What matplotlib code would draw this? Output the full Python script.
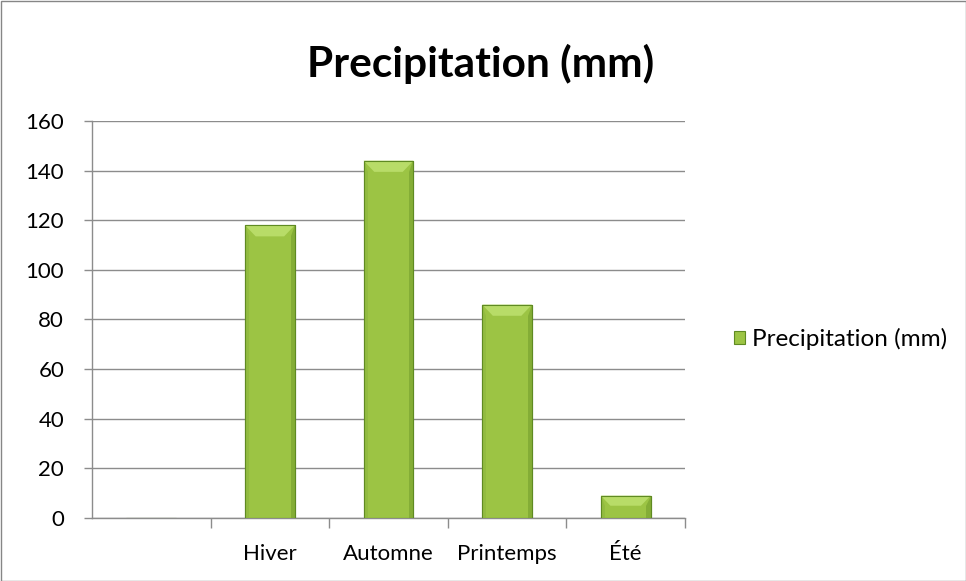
import matplotlib
matplotlib.use("Agg")
import matplotlib.pyplot as plt
from matplotlib.patches import Rectangle, Polygon
import numpy as np

plt.rcParams['font.family'] = ['Lato', 'DejaVu Sans']

categories = ["", "Hiver", "Automne", "Printemps", "Été"]
values = [0, 118, 144, 86, 9]
series_name = "Precipitation (mm)"
title = "Precipitation (mm)"
yticks = [0, 20, 40, 60, 80, 100, 120, 140, 160]

fig = plt.figure(figsize=(9.66, 5.81), dpi=100)
ax = fig.add_axes([92/966, 1-518/581, (685-92)/966, (518-121)/581])

x = np.arange(len(categories))
width = 0.42
face = '#9cc444'
edge = '#5f8a22'
bars = ax.bar(x, values, width=width, color=face, edgecolor=edge, linewidth=0.8, zorder=3,
              label=series_name)

# bevel highlight on top and darker sides
for xi, v in zip(x, values):
    if v <= 0:
        continue
    b = min(4.5, v * 0.45)
    l, r = xi - width/2, xi + width/2
    inset = 0.09 * b / 4.5
    side = 0.035
    ax.add_patch(Polygon([[r, v], [r, 0], [r - side, 0], [r - side, v - b]],
                         closed=True, facecolor='#84ad36', edgecolor='none', zorder=4))
    ax.add_patch(Polygon([[l, v], [l, 0], [l + side, 0], [l + side, v - b]],
                         closed=True, facecolor='#92bb40', edgecolor='none', zorder=4))
    ax.add_patch(Polygon([[l, v], [r, v], [r - inset, v - b], [l + inset, v - b]],
                         closed=True, facecolor='#b8dc68', edgecolor='none', zorder=4))
    ax.add_patch(Rectangle((l, 0), width, v, facecolor='none', edgecolor=edge,
                           linewidth=0.8, zorder=5))

ax.set_xlim(-0.5, len(categories) - 0.5)
ax.set_ylim(0, 160)
ax.set_yticks(yticks)
ax.set_yticklabels([str(t) for t in yticks], fontsize=16)
ax.yaxis.grid(True, color='#8c8c8c', linewidth=1.0, zorder=0)
ax.set_axisbelow(True)

ax.set_xticks(x)
ax.set_xticklabels(categories, fontsize=16)
ax.tick_params(axis='x', length=0, pad=19)
ax.set_xticks(np.arange(len(categories)) + 0.5, minor=True)
ax.tick_params(axis='x', which='minor', length=7, width=1, color='#8c8c8c', direction='out')
ax.tick_params(axis='y', length=6, width=1, color='#8c8c8c', direction='out', pad=14)

for s in ['top', 'right']:
    ax.spines[s].set_visible(False)
for s in ['left', 'bottom']:
    ax.spines[s].set_color('#8c8c8c')
    ax.spines[s].set_linewidth(1.0)

fig.text(481/966, 1-64/581, title, fontsize=30.5, fontweight='bold', ha='center', va='center')

leg = fig.legend(handles=[bars], labels=[series_name], loc='center left',
                 bbox_to_anchor=(712/966, 1-339/581), frameon=False, fontsize=17.5,
                 handlelength=0.45, handleheight=0.45, handletextpad=0.3)

fig.patches.append(Rectangle((0.5/966, 0.5/581), 1-1/966, 1-1/581, transform=fig.transFigure,
                             fill=False, edgecolor='#868686', linewidth=1.0))

fig.savefig("out.png", dpi=100)
